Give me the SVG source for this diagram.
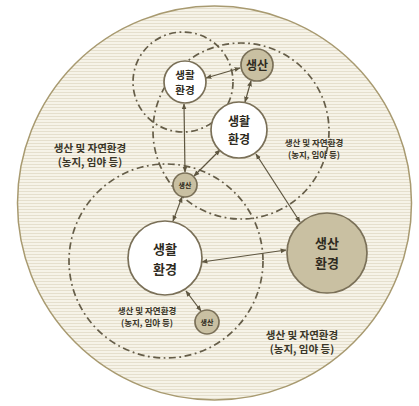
<svg xmlns="http://www.w3.org/2000/svg" width="419" height="406" viewBox="0 0 419 406">
<defs>
<pattern id="stripes" width="4" height="3" patternUnits="userSpaceOnUse">
<rect width="4" height="3" fill="#f6f3e8"/>
<rect y="2" width="4" height="1" fill="#e5dfcd"/>
</pattern>
<marker id="ah" viewBox="0 0 10 10" refX="9" refY="5" markerWidth="5" markerHeight="5" orient="auto-start-reverse">
<path d="M0,1 L10,5 L0,9 z" fill="#5e5640"/>
</marker>
<style>
.zone{fill:none;stroke:#655d48;stroke-width:1.7;stroke-dasharray:7 3.5 1.8 3.5}
.life{fill:#ffffff;stroke:#7a7058;stroke-width:1.7}
.prod{fill:#c9c0a2;stroke:#7a7058;stroke-width:1.7}
.conn{stroke:#5e5640;stroke-width:1.2;fill:none;marker-start:url(#ah);marker-end:url(#ah)}
text{font-family:"Noto Sans CJK KR","Noto Sans",sans-serif;font-weight:bold;fill:#2e2a20;text-anchor:middle}
.lbl{fill:#3a3628;font-weight:bold}
</style>
</defs>
<rect width="419" height="406" fill="#ffffff"/>
<circle cx="214.5" cy="203" r="197" fill="url(#stripes)" stroke="#a89a70" stroke-width="1.5"/>
<g id="zones">
<circle class="zone" cx="183" cy="82" r="50"/>
<circle class="zone" cx="241" cy="131" r="88"/>
<circle class="zone" cx="166" cy="261" r="97"/>
</g>
<g id="connectors">
<line class="conn" x1="206" y1="78" x2="240" y2="68"/>
<line class="conn" x1="251" y1="81" x2="245" y2="102"/>
<line class="conn" x1="184" y1="104" x2="185" y2="172"/>
<line class="conn" x1="220" y1="150" x2="194" y2="176"/>
<line class="conn" x1="182" y1="197" x2="173" y2="221"/>
<line class="conn" x1="202" y1="262" x2="286" y2="250"/>
<line class="conn" x1="256" y1="154" x2="300" y2="222"/>
<line class="conn" x1="186" y1="291" x2="201" y2="311"/>
</g>
<g id="node-life1">
<circle class="life" cx="185" cy="82" r="21"/>
<text x="185" y="79" font-size="10.5">생활</text>
<text x="185" y="94" font-size="10.5">환경</text>
</g>
<g id="node-prod1">
<circle class="prod" cx="257" cy="65" r="16"/>
<text x="257" y="70" font-size="12">생산</text>
</g>
<g id="node-life2">
<circle class="life" cx="239" cy="130" r="28"/>
<text x="239" y="126" font-size="12">생활</text>
<text x="239" y="144" font-size="12">환경</text>
</g>
<g id="node-prod2">
<circle class="prod" cx="185" cy="185" r="12"/>
<text x="185" y="188" font-size="7">생산</text>
</g>
<g id="node-life3">
<circle class="life" cx="165" cy="258" r="37"/>
<text x="165" y="254" font-size="13">생활</text>
<text x="165" y="274" font-size="13">환경</text>
</g>
<g id="node-prod3">
<circle class="prod" cx="207" cy="322" r="12"/>
<text x="207" y="325" font-size="7">생산</text>
</g>
<g id="node-prod4">
<circle class="prod" cx="327" cy="253" r="40"/>
<text x="327" y="248" font-size="13">생산</text>
<text x="327" y="268" font-size="13">환경</text>
</g>
<g id="labels">
<text class="lbl" x="90" y="152" font-size="10.5">생산 및 자연환경</text>
<text class="lbl" x="90" y="166" font-size="10.5">(농지, 임야 등)</text>
<text class="lbl" x="314" y="146" font-size="8.5">생산 및 자연환경</text>
<text class="lbl" x="314" y="158" font-size="8.5">(농지, 임야 등)</text>
<text class="lbl" x="147" y="314" font-size="8.5">생산 및 자연환경</text>
<text class="lbl" x="147" y="326" font-size="8.5">(농지, 임야 등)</text>
<text class="lbl" x="302" y="339" font-size="10.5">생산 및 자연환경</text>
<text class="lbl" x="302" y="353" font-size="10.5">(농지, 임야 등)</text>
</g>
</svg>
